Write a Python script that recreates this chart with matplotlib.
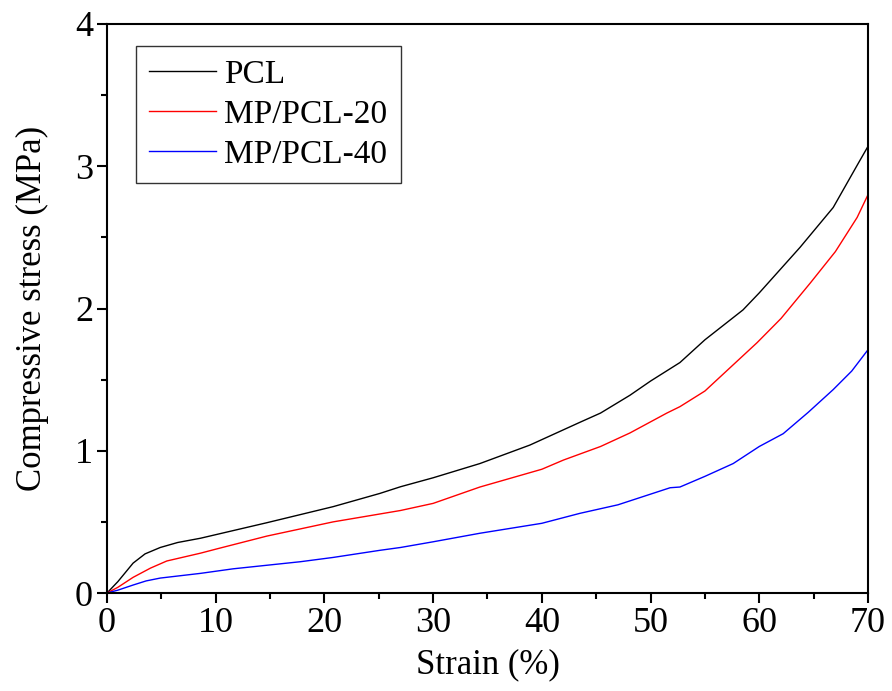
import numpy as np
import matplotlib.pyplot as plt

plt.rcParams['font.family'] = ['Liberation Serif', 'DejaVu Serif']

# values (strain %, stress MPa)
pcl_strain = [0, 1.0, 2.4, 3.5, 4.9, 6.5, 8.6, 14.7, 20.8, 25.1, 27.0, 30.0, 34.3, 38.9,
              43.5, 45.4, 48.1, 50.0, 52.7, 55.0, 58.5, 60.0, 63.75, 66.8, 69.1, 70.0]
pcl_stress = [0, 0.08, 0.21, 0.275, 0.32, 0.355, 0.385, 0.494, 0.607, 0.70, 0.747, 0.81, 0.91, 1.04,
              1.20, 1.265, 1.39, 1.49, 1.62, 1.78, 1.99, 2.11, 2.43, 2.71, 3.02, 3.14]

mp20_strain = [0, 1.0, 2.4, 4.0, 5.5, 8.6, 10.1, 14.7, 20.8, 27.0, 30.0, 34.3, 40.0, 42.0, 45.4,
               48.1, 51.5, 52.7, 55.0, 59.8, 62.0, 64.7, 67.0, 69.0, 70.0]
mp20_stress = [0, 0.04, 0.11, 0.175, 0.225, 0.28, 0.31, 0.40, 0.50, 0.58, 0.63, 0.745, 0.87, 0.935, 1.03,
               1.125, 1.265, 1.31, 1.42, 1.76, 1.93, 2.18, 2.40, 2.64, 2.80]

mp40_strain = [0, 1.0, 2.4, 3.6, 4.9, 8.6, 11.6, 17.8, 20.8, 25.1, 27.0, 30.0, 34.3, 40.0,
               43.5, 47.0, 51.8, 52.7, 55.0, 57.6, 60.0, 62.2, 64.5, 66.8, 68.5, 70.0]
mp40_stress = [0, 0.02, 0.056, 0.085, 0.105, 0.138, 0.17, 0.22, 0.25, 0.30, 0.32, 0.36, 0.42, 0.49,
               0.56, 0.62, 0.74, 0.745, 0.82, 0.91, 1.03, 1.12, 1.27, 1.43, 1.56, 1.71]

labels = ['PCL', 'MP/PCL-20', 'MP/PCL-40']
colors = ['black', 'red', 'blue']

fig = plt.figure(figsize=(8.92, 6.91), dpi=100)
ax = fig.add_axes([107 / 892, 1 - 593 / 691, (868 - 107) / 892, (593 - 24) / 691])

series = [(pcl_strain, pcl_stress), (mp20_strain, mp20_stress), (mp40_strain, mp40_stress)]
for (x, y), lab, c in zip(series, labels, colors):
    ax.plot(x, y, color=c, lw=1.0, label=lab)

ax.set_xlim(0, 70)
ax.set_ylim(0, 4)
ax.set_xticks(range(0, 71, 10))
ax.set_xticks(range(5, 70, 10), minor=True)
ax.set_yticks(range(0, 5))
ax.set_yticks(np.arange(0.5, 4, 1.0), minor=True)
ax.tick_params(which='both', direction='out', top=False, right=False, labelsize=26, width=1.5)
ax.tick_params(which='major', length=7, pad=3)
ax.tick_params(which='minor', length=4)
for s in ax.spines.values():
    s.set_linewidth(1.5)

ax.set_xlabel('Strain (%)', fontsize=25, labelpad=6)
ax.set_ylabel('Compressive stress (MPa)', fontsize=25, labelpad=19)

leg = ax.legend(loc='upper left', bbox_to_anchor=(0.038, 0.961), borderaxespad=0,
                fontsize=24, frameon=True, fancybox=False, edgecolor='black',
                handlelength=2.0, handletextpad=0.25, labelspacing=0.28, borderpad=0.4)
leg.get_frame().set_linewidth(1.0)

fig.savefig('out.png', dpi=100)
